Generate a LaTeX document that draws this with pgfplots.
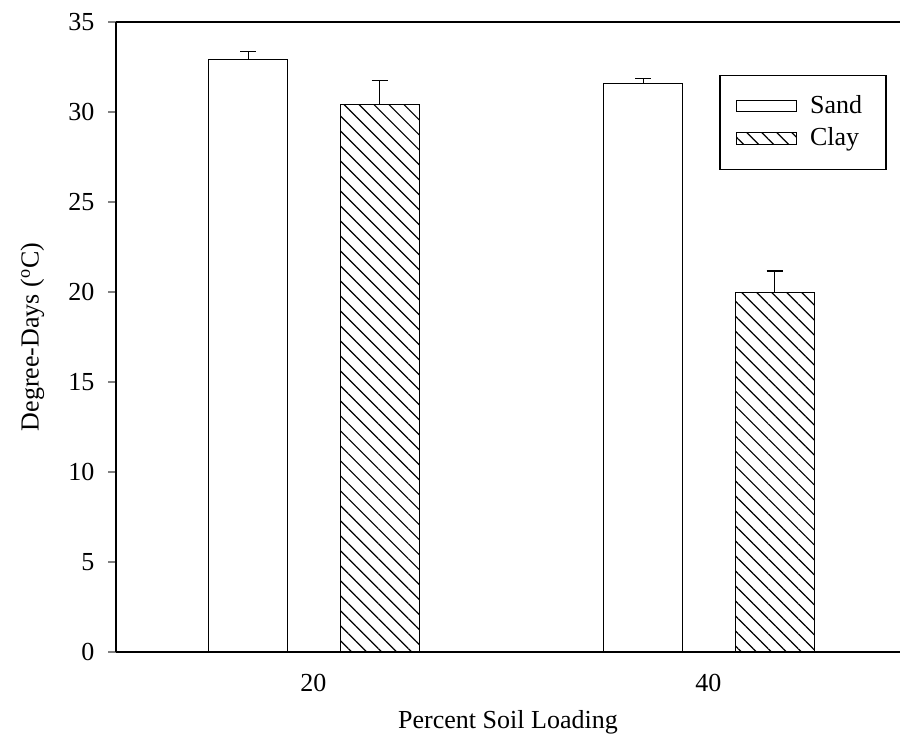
\documentclass[border=0pt]{standalone}
\usepackage{fontspec}
\setmainfont{Liberation Serif}
\usepackage{pgfplots}
\pgfplotsset{compat=1.18}
\usetikzlibrary{patterns.meta}
\begin{document}
\fontsize{11pt}{13pt}\selectfont
\begin{tikzpicture}
\begin{axis}[
  scale only axis,
  width=392pt, height=315pt,
  xmin=10, xmax=49.7,
  ymin=0, ymax=35,
  axis x line*=box,
  axis y line*=left,
  axis line style={line width=0.75pt},
  ytick={0,5,...,35},
  xtick={20,40},
  x tick style={draw=none},
  y tick style={line width=0.6pt},
  tick align=outside,
  major tick length=4pt,
  /pgf/number format/assume math mode=true,
  tick label style={font=\fontsize{13pt}{15pt}\selectfont},
  yticklabel style={xshift=-3pt},
  xticklabel style={yshift=-3pt},
  xlabel={Percent Soil Loading},
  ylabel={Degree-Days (\textsuperscript{o}C)},
  label style={font=\fontsize{13pt}{15pt}\selectfont},
  xlabel style={yshift=-2.2pt},
  ylabel style={yshift=4.5pt},
  bar width=4,
  legend style={at={(0.983,0.916)}, anchor=north east, draw=black, line width=0.6pt,
    font=\fontsize{13pt}{15pt}\selectfont, row sep=1.5pt, inner xsep=8pt, inner ysep=8pt,
    nodes={inner xsep=4pt},
    /tikz/every odd column/.append style={column sep=2.5pt}},
  legend cell align=left,
  legend image code/.code={\draw[#1, line width=0.5pt] (0pt,-2.9pt) rectangle (30pt,2.9pt);},
]
\addplot[ybar, bar shift=0pt, draw=black, fill=white, line width=0.5pt,
  error bars/.cd, y dir=plus, y explicit,
  error bar style={line width=0.6pt, black},
  error mark options={rotate=90, mark size=4pt, line width=0.6pt, black}]
  coordinates {(16.7,32.93) +- (0,0.42) (36.7,31.56) +- (0,0.29)};
\addlegendentry{Sand}
\addplot[ybar, bar shift=0pt, draw=black, line width=0.5pt,
  pattern={Lines[angle=-45, distance=5.3pt, line width=0.6pt]},
  error bars/.cd, y dir=plus, y explicit,
  error bar style={line width=0.6pt, black},
  error mark options={rotate=90, mark size=4pt, line width=0.6pt, black}]
  coordinates {(23.35,30.4) +- (0,1.36) (43.35,19.98) +- (0,1.19)};
\addlegendentry{Clay}
\coordinate (SW) at (rel axis cs:0,0);
\coordinate (NE) at (rel axis cs:1,1);
\end{axis}
\pgfresetboundingbox
\path[use as bounding box] ([xshift=-58pt,yshift=-41.5pt]SW) rectangle ([xshift=0.5pt,yshift=11pt]NE);
\end{tikzpicture}
\end{document}
